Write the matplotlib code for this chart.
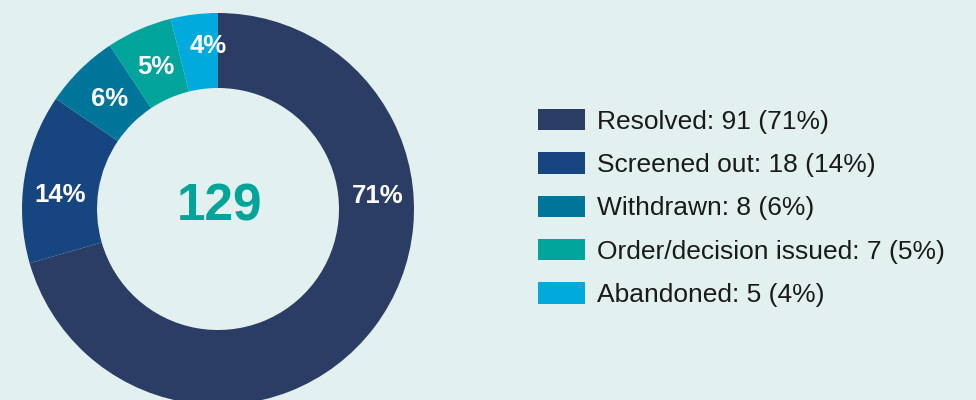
import numpy as np
import matplotlib
matplotlib.use("Agg")
import matplotlib.pyplot as plt

plt.rcParams["font.family"] = ["Liberation Sans", "DejaVu Sans"]

# data
categories = ["Resolved", "Screened out", "Withdrawn", "Order/decision issued", "Abandoned"]
counts = [91, 18, 8, 7, 5]
pct_labels = ["71%", "14%", "6%", "5%", "4%"]
total = 129

colors = ["#2b3d65", "#17457f", "#00759a", "#00a49a", "#00aadc"]
bg = "#e2f0ef"

W, H = 976, 400
fig = plt.figure(figsize=(W / 100, H / 100), dpi=100, facecolor=bg)

# pie axes: centre (218, 209) px, outer radius 196 px
cx, cy, r = 218, 209, 196
ax = fig.add_axes([(cx - r) / W, (H - cy - r) / H, 2 * r / W, 2 * r / H])
ax.set_facecolor(bg)

ring = 75 / 196
wedges, _ = ax.pie(counts, colors=colors, startangle=90, counterclock=False,
                   radius=1.0, wedgeprops=dict(width=ring, linewidth=0))
ax.set_xlim(-1, 1)
ax.set_ylim(-1, 1)
ax.set_aspect("equal")
ax.axis("off")

# label placement (angle override, radius) - big slices sit on the horizontal
label_ang = [4.8, 175.1, None, None, 93.5]
label_rad = [0.82, 0.81, 0.786, 0.79, 0.835]
for i, w in enumerate(wedges):
    ang = label_ang[i] if label_ang[i] is not None else (w.theta1 + w.theta2) / 2
    x = label_rad[i] * np.cos(np.radians(ang))
    y = label_rad[i] * np.sin(np.radians(ang))
    ax.text(x, y, pct_labels[i], ha="center", va="center", color="white",
            fontsize=18.5, fontweight="bold")

ax.text(0.007, 0.01, str(total), ha="center", va="center", color="#00a499",
        fontsize=37, fontweight="bold")

legend_labels = [f"{c}: {n} ({p})" for c, n, p in zip(categories, counts, pct_labels)]
leg = fig.legend(wedges, legend_labels, loc="center left",
                 bbox_to_anchor=(538 / W, 1 - 208 / H), frameon=False,
                 fontsize=19, handlelength=1.78, handleheight=0.87,
                 handletextpad=0.44, labelspacing=0.70, borderpad=0,
                 borderaxespad=0)
for t in leg.get_texts():
    t.set_color("#1a1a1a")

fig.savefig("out.png", dpi=100, facecolor=bg)
